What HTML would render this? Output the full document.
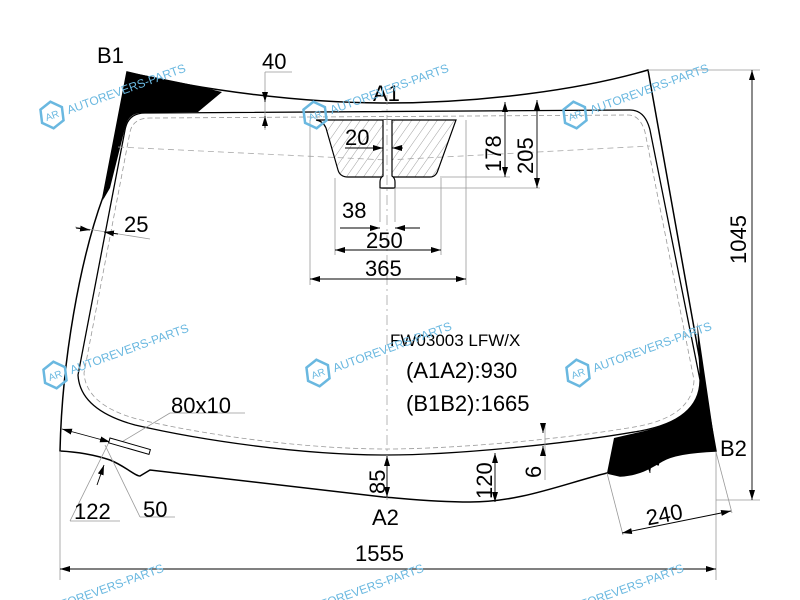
<!DOCTYPE html>
<html><head><style>
html,body{margin:0;padding:0;background:#fff;overflow:hidden;width:800px;height:600px;}
svg{display:block;font-family:"Liberation Sans",Arial,sans-serif;overflow:hidden;}
</style></head><body>
<svg width="800" height="600" viewBox="0 0 800 600" xmlns="http://www.w3.org/2000/svg">
<defs>
<clipPath id="cp"><rect x="0" y="0" width="800" height="600"/></clipPath>
<pattern id="h" width="7" height="7" patternUnits="userSpaceOnUse" patternTransform="rotate(35)">
<line x1="0" y1="0" x2="0" y2="7" stroke="#888" stroke-width="0.8"/>
</pattern>
<marker id="a" viewBox="0 0 10 6" refX="10" refY="3" markerWidth="10" markerHeight="6" orient="auto-start-reverse" markerUnits="userSpaceOnUse">
<path d="M0,0 L10,3 L0,6 z" fill="#000"/>
</marker>
<g id="wm">
<path d="M-9,-9 L3,-13 L12,-4 L9,9 L-3,13 L-12,4 z" fill="none" stroke="#6ab8e0" stroke-width="2.5"/>
<text x="-7" y="4" font-size="10" fill="#6ab8e0">AR</text>
<text x="16" y="5" font-size="12" fill="#6ab8e0">AUTOREVERS-PARTS</text>
</g>
</defs>

<!-- black zones -->
<path d="M127,72 C160,78 195,85 222,92 L198,112 L140,113 Q128,114 125,128 L110,188 L103,200 Z" fill="#000"/>
<path d="M697,322 L716,451 C690,452 672,455 662,461 C652,467 640,475 620,476 L607,473 L614,438 L640,432 Q695,420 700,385 Z" fill="#000"/>

<!-- outer outline -->
<path d="M127,72 C200,90 300,103 387,103 C480,103 580,90 648,70 L716,451 C690,452 672,455 662,461 C652,467 640,475 620,476 L607,473 C560,485 520,502 470,502 C430,502 400,498 383,497 L150,470 L140,476 C135,476 125,466 110,460 C95,455 80,452 60,451 C62,360 80,260 103,197 Z" fill="none" stroke="#000" stroke-width="1.5"/>
<!-- inner outline -->
<path d="M150,113 L630,110 Q645,110 650,130 L700,380 Q700,420 640,431 C560,445 450,455 387,455 C300,455 200,440 135,425 Q80,410 78,375 L125,130 Q128,113 145,113 Z" fill="none" stroke="#000" stroke-width="1.3"/>
<path d="M155,118 L628,115 Q640,115 645,132 L694,380 Q693,415 640,426 C560,440 450,449 387,449 C300,449 200,434 137,419 Q86,405 84,373 L130,132 Q133,118 150,118 Z" fill="none" stroke="#999" stroke-width="0.8" stroke-dasharray="5,3"/>
<path d="M118,147 L387,160 L650,146" fill="none" stroke="#aaa" stroke-width="0.8" stroke-dasharray="6,4"/>

<!-- sensor -->
<path d="M316,120 Q323,121 326,128 L338,170 Q340,177 348,177 L383,177 L383,188 L393,188 L393,177 L430,177 Q436,177 438,170 L456,120 Z" fill="url(#h)" stroke="#000" stroke-width="1.2"/>
<rect x="383" y="120" width="9" height="60" fill="#fff"/>
<path d="M383,120 L383,176 Q380,178 380,182 L380,188 L395,188 L395,182 Q395,178 392,176 L392,120" fill="#fff" stroke="#000" stroke-width="1.2"/>
<line x1="387" y1="95" x2="387" y2="500" stroke="#999" stroke-width="0.7" stroke-dasharray="10,4,2,4"/>

<!-- dimension lines -->
<g stroke="#999" stroke-width="0.8" fill="none">
<line x1="265" y1="72" x2="265" y2="130"/><line x1="265" y1="72" x2="292" y2="72"/>
<line x1="310" y1="120" x2="310" y2="285"/><line x1="466" y1="120" x2="466" y2="285"/>
<line x1="335" y1="178" x2="335" y2="255"/><line x1="441" y1="178" x2="441" y2="255"/>
<line x1="380" y1="188" x2="380" y2="222"/><line x1="395" y1="188" x2="395" y2="222"/>
<line x1="440" y1="177" x2="510" y2="177"/><line x1="395" y1="188" x2="540" y2="188"/>
<line x1="648" y1="70" x2="760" y2="70"/><line x1="716" y1="500" x2="760" y2="500"/>
<line x1="60" y1="451" x2="60" y2="580"/><line x1="716" y1="452" x2="716" y2="580"/>
<line x1="75" y1="227" x2="150" y2="239"/>
<line x1="110" y1="440" x2="70" y2="521"/><line x1="70" y1="521" x2="120" y2="521"/>
<line x1="105" y1="445" x2="140" y2="517"/><line x1="140" y1="517" x2="175" y2="517"/>
<line x1="120" y1="443" x2="170" y2="413"/><line x1="170" y1="413" x2="245" y2="413"/>
<line x1="607" y1="473" x2="623" y2="535"/><line x1="716" y1="452" x2="732" y2="513"/>
<line x1="545" y1="425" x2="545" y2="480"/>
</g>
<g stroke="#000" stroke-width="0.9" fill="none">
<line x1="265" y1="92" x2="265" y2="102" marker-end="url(#a)"/>
<line x1="265" y1="128" x2="265" y2="116" marker-end="url(#a)"/>
<line x1="340" y1="228" x2="380" y2="228" marker-end="url(#a)"/>
<line x1="420" y1="228" x2="395" y2="228" marker-end="url(#a)"/>
<line x1="335" y1="250" x2="441" y2="250" marker-start="url(#a)" marker-end="url(#a)"/>
<line x1="310" y1="279" x2="466" y2="279" marker-start="url(#a)" marker-end="url(#a)"/>
<line x1="345" y1="148" x2="383" y2="148" marker-end="url(#a)"/>
<line x1="403" y1="148" x2="392" y2="148" marker-end="url(#a)"/>
<line x1="505" y1="102" x2="505" y2="177" marker-start="url(#a)" marker-end="url(#a)"/>
<line x1="537" y1="100" x2="537" y2="188" marker-start="url(#a)" marker-end="url(#a)"/>
<line x1="752" y1="70" x2="752" y2="500" marker-start="url(#a)" marker-end="url(#a)"/>
<line x1="60" y1="569" x2="716" y2="569" marker-start="url(#a)" marker-end="url(#a)"/>
<line x1="76" y1="228" x2="90" y2="230" marker-end="url(#a)"/>
<line x1="118" y1="234" x2="104" y2="232" marker-end="url(#a)"/>
<line x1="62" y1="429" x2="110" y2="442" marker-start="url(#a)" marker-end="url(#a)"/>
<line x1="97" y1="485" x2="104" y2="465" marker-end="url(#a)"/>
<line x1="387" y1="456" x2="387" y2="497" marker-start="url(#a)" marker-end="url(#a)"/>
<line x1="495" y1="453" x2="495" y2="502" marker-start="url(#a)" marker-end="url(#a)"/>
<line x1="543" y1="425" x2="543" y2="433" marker-end="url(#a)"/>
<line x1="543" y1="454" x2="543" y2="446" marker-end="url(#a)"/>
<line x1="645" y1="433" x2="650" y2="473" marker-start="url(#a)" marker-end="url(#a)"/>
<line x1="622" y1="533" x2="731" y2="511" marker-start="url(#a)" marker-end="url(#a)"/>
</g>
<rect x="110" y="438" width="42" height="5" fill="#fff" stroke="#000" stroke-width="1" transform="rotate(16 110 438)"/>

<!-- labels -->
<g font-size="22" fill="#000">
<text x="97" y="63">B1</text>
<text x="262" y="69">40</text>
<text x="373" y="101">A1</text>
<text x="345" y="145">20</text>
<text x="342" y="218">38</text>
<text x="366" y="248">250</text>
<text x="365" y="276">365</text>
<text x="124" y="232">25</text>
<text x="390" y="346" font-size="17">FW03003 LFW/X</text>
<text x="406" y="378">(A1A2):930</text>
<text x="406" y="411">(B1B2):1665</text>
<text x="171" y="413">80x10</text>
<text x="74" y="519">122</text>
<text x="143" y="517">50</text>
<text x="372" y="525">A2</text>
<text x="355" y="561">1555</text>
<text x="720" y="456">B2</text>
<text x="646" y="523" transform="rotate(-11 660 515)">240</text>
<text transform="translate(501,172) rotate(-90)">178</text>
<text transform="translate(533,174) rotate(-90)">205</text>
<text transform="translate(746,264) rotate(-90)">1045</text>
<text transform="translate(385,494) rotate(-90)">85</text>
<text transform="translate(492,499) rotate(-90)">120</text>
<text transform="translate(541,478) rotate(-90)">6</text>
<text transform="translate(648,440) rotate(100)">97</text>
</g>

<!-- watermarks -->
<g clip-path="url(#cp)">
<use href="#wm" transform="translate(52,115) rotate(-20)"/>
<use href="#wm" transform="translate(315,115) rotate(-20)"/>
<use href="#wm" transform="translate(575,115) rotate(-20)"/>
<use href="#wm" transform="translate(55,375) rotate(-20)"/>
<use href="#wm" transform="translate(318,373) rotate(-20)"/>
<use href="#wm" transform="translate(578,373) rotate(-20)"/>
<use href="#wm" transform="translate(30,615) rotate(-20)"/>
<use href="#wm" transform="translate(290,615) rotate(-20)"/>
<use href="#wm" transform="translate(550,615) rotate(-20)"/>
</g>
</svg>
</body></html>
